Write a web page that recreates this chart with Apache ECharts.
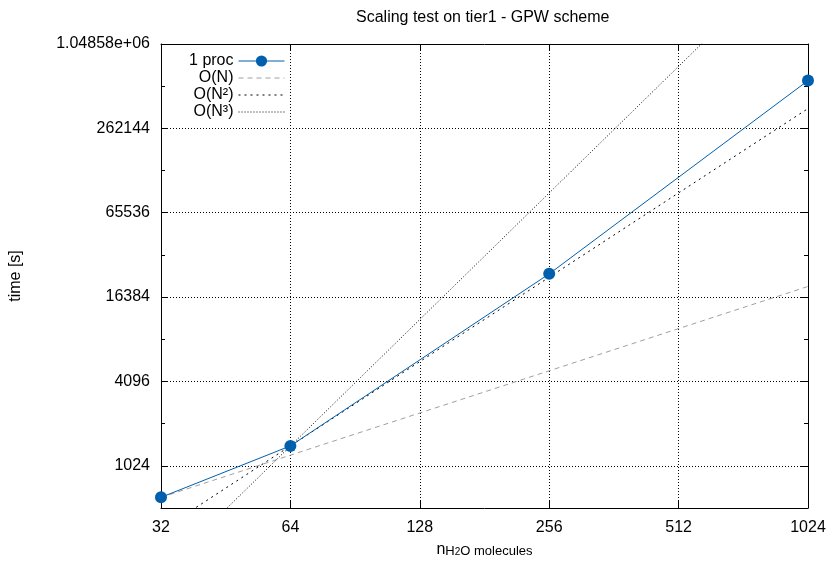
<!DOCTYPE html>
<html><head><meta charset="utf-8">
<script src="https://cdn.jsdelivr.net/npm/echarts@6/dist/echarts.min.js"></script>
<style>html,body{margin:0;padding:0;background:#fff}#c{width:830px;height:563px}</style>
</head><body><div id="c"></div>
<script>
const titleText = 'Scaling test on tier1 - GPW scheme';
const seriesNames = ['1 proc', 'O(N)', 'O(N²)', 'O(N³)'];
const nMolecules = [32, 64, 256, 1024];
const time1proc = [610, 1420, 24000, 575000];
const refN = [32, 1024];
const orderN = [610, 19520];
const orderN2 = [355, 363000];
const orderN3 = [177, 5812000];
const yTickLabels = {1024: '1024', 4096: '4096', 16384: '16384', 65536: '65536', 262144: '262144', 1048576: '1.04858e+06'};

const FONT = '"Liberation Sans", Arial, Helvetica, sans-serif';
const pairs = (xs, ys) => xs.map((x, i) => [x, ys[i]]);

const chart = echarts.init(document.getElementById('c'), null, {renderer: 'canvas'});
const gridDots = {show: true, lineStyle: {color: '#000', width: 1, type: [1, 2]}};
const black = {color: '#000', width: 1};

chart.setOption({
  animation: false,
  backgroundColor: '#fff',
  textStyle: {fontFamily: FONT},
  title: {
    text: titleText, left: 356, top: 10, padding: 0,
    textStyle: {fontSize: 16, fontWeight: 'normal', color: '#000', fontFamily: FONT}
  },
  grid: {left: 161, right: 22, top: 44, bottom: 52, containLabel: false},
  legend: {
    orient: 'vertical', align: 'right', right: 545, top: 53, padding: 0,
    itemGap: 1, itemWidth: 46, itemHeight: 14,
    lineStyle: {width: 1},
    data: [
      {name: seriesNames[0]},
      {name: seriesNames[1], itemStyle: {opacity: 0}},
      {name: seriesNames[2], itemStyle: {opacity: 0}},
      {name: seriesNames[3], itemStyle: {opacity: 0}}
    ],
    textStyle: {fontSize: 16, color: '#000', lineHeight: 15, fontFamily: FONT}
  },
  xAxis: [
    {
      type: 'log', logBase: 2, min: 32, max: 1024, interval: 1, position: 'bottom',
      axisLine: {show: true, lineStyle: black},
      axisTick: {show: true, inside: true, length: 7, lineStyle: black},
      axisLabel: {color: '#000', fontSize: 16, margin: 12, fontFamily: FONT,
        formatter: v => String(Math.round(v))},
      splitLine: gridDots,
      name: '{n|n}{s|H}{ss|2}{s|O molecules}', nameLocation: 'middle', nameGap: 34,
      nameTextStyle: {color: '#000', fontFamily: FONT, rich: {
        n: {fontSize: 16, padding: [0, 0, 4, 0], fontFamily: FONT, color: '#000'},
        s: {fontSize: 13, padding: [0, 0, 1, 0], fontFamily: FONT, color: '#000'},
        ss: {fontSize: 10, fontFamily: FONT, color: '#000'}
      }}
    },
    {
      type: 'log', logBase: 2, min: 32, max: 1024, interval: 1, position: 'top',
      axisLine: {show: true, lineStyle: black},
      axisTick: {show: true, inside: true, length: 7, lineStyle: black},
      axisLabel: {show: false}, splitLine: {show: false}
    }
  ],
  yAxis: [
    {
      type: 'log', logBase: 4, min: 512, max: 1048576, position: 'left',
      axisLine: {show: true, lineStyle: black},
      axisTick: {show: true, inside: true, length: 7, lineStyle: black},
      axisLabel: {color: '#000', fontSize: 16, margin: 11, fontFamily: FONT,
        formatter: v => yTickLabels[Math.round(v)] || ''},
      splitLine: gridDots,
      name: 'time [s]', nameLocation: 'middle', nameGap: 137, nameRotate: 90,
      nameTextStyle: {color: '#000', fontSize: 16, fontFamily: FONT}
    },
    {
      type: 'log', logBase: 4, min: 512, max: 1048576, position: 'right',
      axisLine: {show: true, lineStyle: black},
      axisTick: {show: true, inside: true, length: 7, lineStyle: black},
      axisLabel: {show: false}, splitLine: {show: false}
    },
    {
      type: 'log', logBase: 2, min: 512, max: 1048576, interval: 1, position: 'left',
      axisLine: {show: false},
      axisTick: {show: true, inside: true, length: 4, lineStyle: black},
      axisLabel: {show: false}, splitLine: {show: false}
    },
    {
      type: 'log', logBase: 2, min: 512, max: 1048576, interval: 1, position: 'right',
      axisLine: {show: false},
      axisTick: {show: true, inside: true, length: 4, lineStyle: black},
      axisLabel: {show: false}, splitLine: {show: false}
    }
  ],
  series: [
    {
      name: seriesNames[0], type: 'line', xAxisIndex: 0, yAxisIndex: 0, z: 5,
      data: pairs(nMolecules, time1proc),
      symbol: 'circle', symbolSize: 12,
      itemStyle: {color: '#0060ad'},
      lineStyle: {color: '#0060ad', width: 1}
    },
    {
      name: seriesNames[1], type: 'line', xAxisIndex: 0, yAxisIndex: 0, z: 3,
      data: pairs(refN, orderN), symbol: 'none',
      itemStyle: {color: '#a0a0a0'},
      lineStyle: {color: '#a0a0a0', width: 1, type: [5, 4]}
    },
    {
      name: seriesNames[2], type: 'line', xAxisIndex: 0, yAxisIndex: 0, z: 3,
      data: pairs(refN, orderN2), symbol: 'none',
      itemStyle: {color: '#000'},
      lineStyle: {color: '#000', width: 1, type: [2, 4]}
    },
    {
      name: seriesNames[3], type: 'line', xAxisIndex: 0, yAxisIndex: 0, z: 3,
      data: pairs(refN, orderN3), symbol: 'none',
      itemStyle: {color: '#000'},
      lineStyle: {color: '#000', width: 1, type: [1, 2]}
    }
  ]
});
</script>
</body></html>
